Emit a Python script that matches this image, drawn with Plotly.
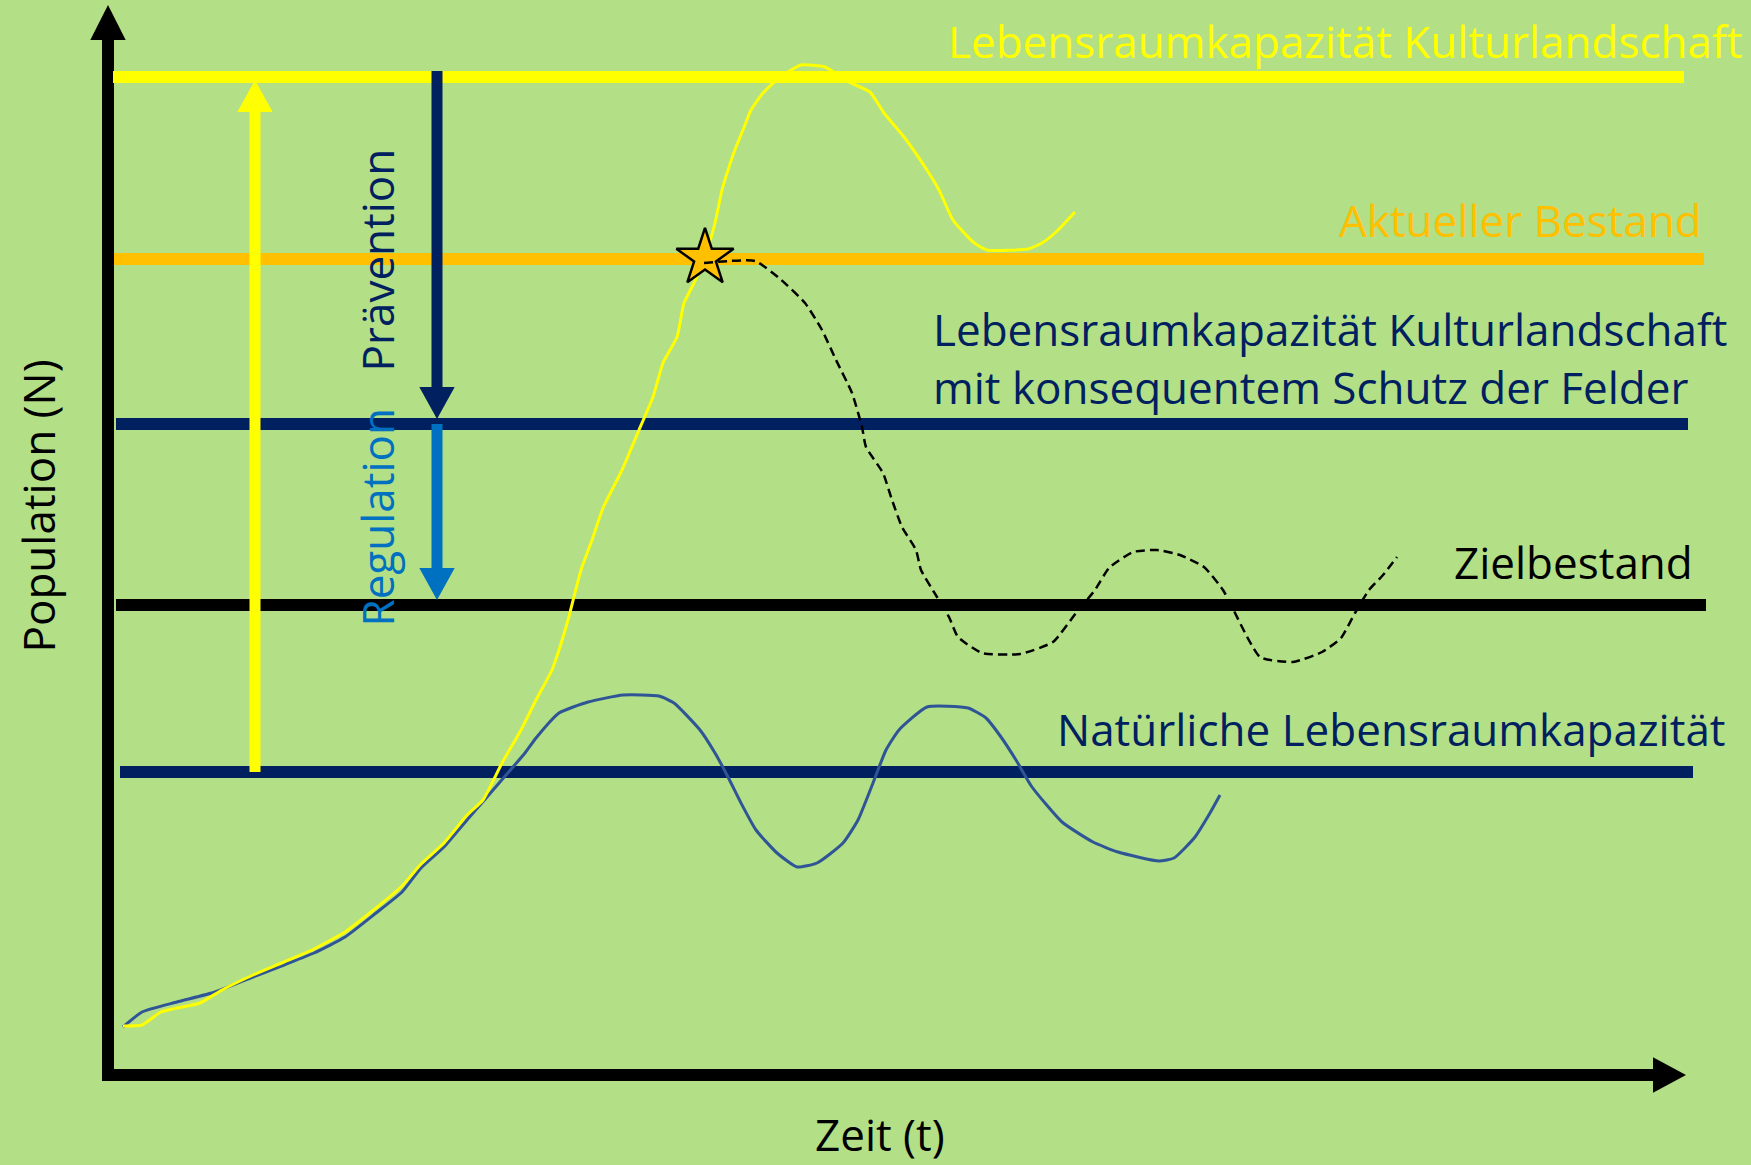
import plotly.graph_objects as go

BG = "#B3DF86"
FONT = "Open Sans"

# ---- horizontal levels (population units) ----
level_labels = ["Lebensraumkapazität Kulturlandschaft", "Aktueller Bestand",
                "Lebensraumkapazität Kulturlandschaft mit konsequentem Schutz der Felder",
                "Zielbestand", "Natürliche Lebensraumkapazität"]
level_values = [99.8, 81.6, 65.1, 47.0, 30.3]
level_start = [0.5, 0.6, 0.8, 0.8, 1.2]
level_end = [157.6, 159.6, 158.0, 159.8, 158.5]
level_colors = ["#FFFF00", "#FFC000", "#002060", "#000000", "#002060"]

# ---- population curves ----
t_kultur = [1.5, 3.4, 5.3, 9.2, 11.4, 14.5, 17.6, 20.6, 23.7, 26.8, 29.4, 31.3, 33.6, 35.9, 37.5,
            39.4, 41.3, 42.8, 44.4, 45.1, 46.0, 47.3, 48.4, 49.5, 51.4, 53.1, 54.5, 55.5, 56.9,
            57.6, 58.6, 59.7, 60.7, 61.4, 62.1, 62.8, 63.5, 64.3, 65.5, 67.2, 69.3, 71.7, 74.1,
            76.2, 77.6, 79.6, 81.7, 83.1, 84.5, 86.5, 87.9, 92.0, 93.4, 94.8, 96.7]
n_kultur = [4.9, 5.0, 6.3, 7.2, 8.5, 10.0, 11.3, 12.6, 14.3, 16.7, 18.9, 21.1, 23.2, 26.0, 27.5,
            31.2, 34.5, 37.5, 40.5, 42.5, 45.5, 50.5, 53.5, 56.7, 60.5, 64.5, 67.8, 71.2, 73.8,
            77.2, 79.2, 81.8, 85.2, 88.5, 90.8, 92.8, 94.5, 96.5, 98.2, 99.8, 101.0, 100.8, 99.3,
            98.3, 96.2, 93.8, 90.8, 88.5, 85.5, 83.3, 82.5, 82.6, 83.2, 84.3, 86.3]

t_natur = [1.5, 3.4, 6.9, 10.7, 14.5, 17.6, 20.6, 23.7, 26.8, 29.4, 31.3, 33.6, 35.9, 37.9, 39.8,
           41.7, 42.8, 45.1, 48.0, 51.5, 55.1, 56.6, 59.2, 60.7, 62.0, 63.3, 64.8, 66.9, 68.9,
           70.9, 73.5, 75.0, 76.5, 77.8, 79.1, 81.9, 86.0, 87.8, 89.3, 90.8, 92.4, 95.4, 98.5,
           101.0, 105.1, 106.6, 108.7, 110.2, 111.2]
n_natur = [4.8, 6.3, 7.3, 8.3, 9.8, 11.0, 12.2, 13.8, 16.2, 18.3, 20.7, 22.8, 25.5, 27.8, 30.0,
           32.2, 33.7, 36.2, 37.3, 38.0, 37.9, 37.2, 34.5, 32.2, 29.8, 27.2, 24.5, 22.2, 20.8,
           21.2, 23.2, 25.5, 29.2, 32.5, 34.5, 36.8, 36.7, 35.7, 33.8, 31.5, 28.8, 25.3, 23.3,
           22.3, 21.4, 21.7, 23.8, 26.2, 28.0]

t_ziel = [59.6, 64.7, 67.1, 69.7, 71.4, 72.8, 74.4, 75.4, 75.8, 77.5, 78.4, 79.4, 80.8, 81.3, 82.9,
          84.1, 85.0, 87.4, 91.2, 94.5, 96.8, 98.7, 100.1, 102.5, 104.9, 107.2, 109.6, 111.5,
          112.4, 115.2, 118.5, 121.4, 123.3, 124.7, 126.1, 127.5, 128.9]
n_ziel = [81.2, 81.4, 79.7, 77.2, 74.5, 71.5, 68.2, 64.8, 62.8, 60.2, 57.5, 54.8, 52.5, 50.5, 47.8,
          45.8, 43.8, 42.2, 42.1, 43.3, 46.2, 48.5, 50.7, 52.3, 52.5, 52.0, 50.8, 48.5,
          46.8, 41.8, 41.3, 42.3, 43.7, 46.2, 48.5, 50.0, 51.8]

star_t = [59.7]
star_n = [81.7]

# ---- vertical arrows ----
arrow_t = [14.7, 32.9, 32.9]
arrow_from = [30.3, 100.4, 65.1]
arrow_to = [99.5, 65.6, 47.5]
arrow_colors = ["#FFFF00", "#002060", "#0070C0"]
arrow_labels = ["", "Prävention", "Regulation"]

# ---- axes extents ----
x_range = [-10.8, 164.3]
y_range = [-9.0, 107.5]
x_axis_end = 157.8
y_axis_end = 107.0

HEAD_LEN = 3.2
HEAD_HALF = 1.77

shapes = []
# axes
shapes.append(dict(type="line", x0=0, x1=0, y0=-0.5, y1=y_axis_end - 3.4,
                   line=dict(color="black", width=12), layer="below"))
shapes.append(dict(type="path", path=f"M {-HEAD_HALF},{y_axis_end-3.5} L {HEAD_HALF},{y_axis_end-3.5} L 0,{y_axis_end} Z",
                   fillcolor="black", line=dict(width=0), layer="below"))
shapes.append(dict(type="line", x0=-0.6, x1=x_axis_end - 3.2, y0=0, y1=0,
                   line=dict(color="black", width=12), layer="below"))
shapes.append(dict(type="path", path=f"M {x_axis_end-3.3},{-HEAD_HALF} L {x_axis_end-3.3},{HEAD_HALF} L {x_axis_end},0 Z",
                   fillcolor="black", line=dict(width=0), layer="below"))

# level lines
for v, s, e, c in zip(level_values, level_start, level_end, level_colors):
    shapes.append(dict(type="line", x0=s, x1=e, y0=v, y1=v,
                       line=dict(color=c, width=12), layer="below"))

# arrows
for t, a, b, c in zip(arrow_t, arrow_from, arrow_to, arrow_colors):
    d = 1 if b > a else -1
    base = b - d * HEAD_LEN
    shapes.append(dict(type="line", x0=t, x1=t, y0=a, y1=base + d * 0.3,
                       line=dict(color=c, width=11), layer="below"))
    shapes.append(dict(type="path",
                       path=f"M {t-HEAD_HALF},{base} L {t+HEAD_HALF},{base} L {t},{b} Z",
                       fillcolor=c, line=dict(width=0), layer="below"))

fig = go.Figure()
fig.add_trace(go.Scatter(x=t_natur, y=n_natur, mode="lines",
                         line=dict(color="#2F5597", width=3, shape="spline", smoothing=0.5),
                         hoverinfo="skip"))
fig.add_trace(go.Scatter(x=t_kultur, y=n_kultur, mode="lines",
                         line=dict(color="#FFFF00", width=3, shape="spline", smoothing=0.5),
                         hoverinfo="skip"))
fig.add_trace(go.Scatter(x=star_t, y=star_n, mode="markers",
                         marker=dict(symbol="star", size=43, color="#FFC000",
                                     line=dict(color="black", width=2.5)), hoverinfo="skip"))
fig.add_trace(go.Scatter(x=t_ziel, y=n_ziel, mode="lines",
                         line=dict(color="black", width=2.5, dash="9px,5px",
                                   shape="spline", smoothing=0.5),
                         hoverinfo="skip"))

ann = []
def txt(x, y, s, color, xa="center", ya="middle", angle=0):
    ann.append(dict(x=x, y=y, xref="x", yref="y", text=s, showarrow=False,
                    xanchor=xa, yanchor=ya, textangle=angle,
                    font=dict(family=FONT, size=44, color=color)))

txt(163.6, 103.45, level_labels[0], level_colors[0], xa="right")
txt(159.6, 85.55, level_labels[1], level_colors[1], xa="right")
txt(82.3, 74.65, "Lebensraumkapazität Kulturlandschaft", level_colors[2], xa="left")
txt(82.3, 68.8, "mit konsequentem Schutz der Felder", level_colors[2], xa="left")
txt(158.7, 51.35, level_labels[3], level_colors[3], xa="right")
txt(162.0, 34.65, level_labels[4], level_colors[4], xa="right")
txt(26.8, 81.45, arrow_labels[1], arrow_colors[1], angle=-90)
txt(26.8, 55.75, arrow_labels[2], arrow_colors[2], angle=-90)
txt(-7.05, 56.9, "Population (N)", "black", angle=-90)
txt(77.2, -5.9, "Zeit (t)", "black")

fig.update_layout(
    width=1751, height=1165,
    margin=dict(l=0, r=0, t=0, b=0),
    paper_bgcolor=BG, plot_bgcolor=BG,
    showlegend=False,
    shapes=shapes, annotations=ann,
    xaxis=dict(range=x_range, visible=False, fixedrange=True),
    yaxis=dict(range=y_range, visible=False, fixedrange=True),
)

fig.write_html(
    "out.html",
    config={"displayModeBar": False},
    post_script="document.body.style.margin='0';document.body.style.overflow='hidden';"
                "document.body.style.background='" + BG + "';",
)
